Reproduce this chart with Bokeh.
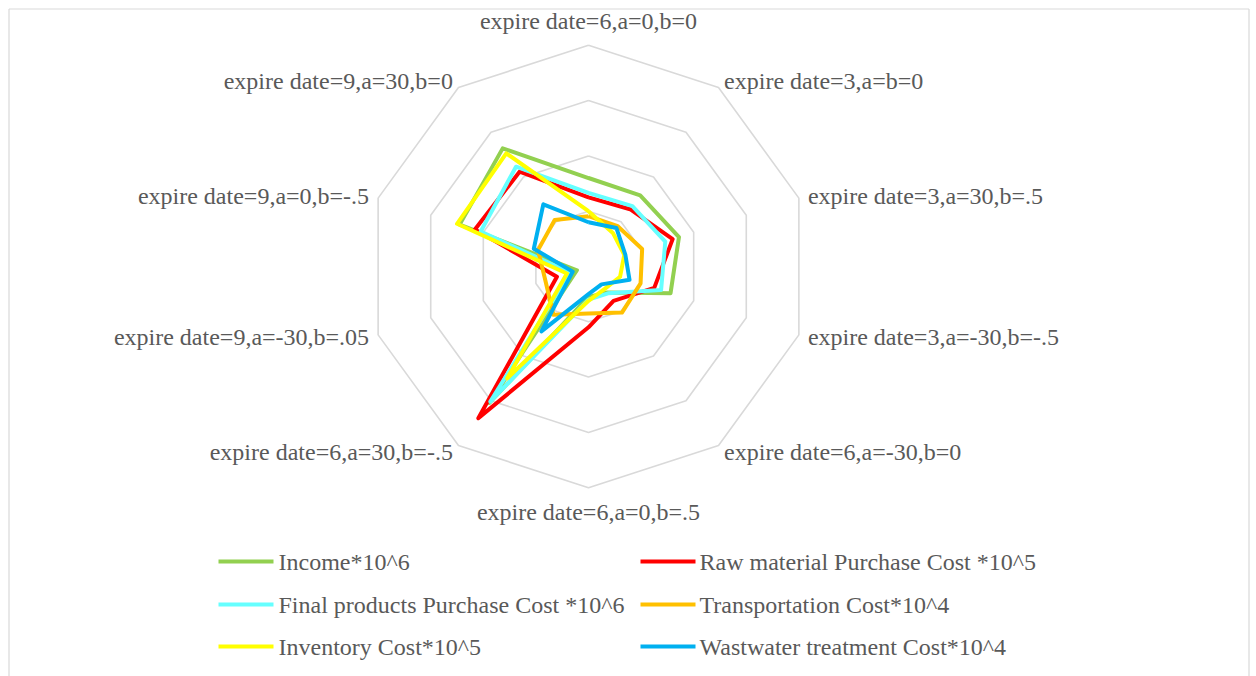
import math
from bokeh.plotting import figure
from bokeh.models import Range1d, ColumnDataSource
from bokeh.core.properties import value
from bokeh.embed import file_html
from bokeh.resources import INLINE

categories = ["expire date=6,a=0,b=0", "expire date=3,a=b=0", "expire date=3,a=30,b=.5",
              "expire date=3,a=-30,b=-.5", "expire date=6,a=-30,b=0", "expire date=6,a=0,b=.5",
              "expire date=6,a=30,b=-.5", "expire date=9,a=-30,b=.05", "expire date=9,a=0,b=-.5",
              "expire date=9,a=30,b=0"]
income = [1.60, 1.59, 1.72, 1.56, 0.58, 0.55, 3.05, 0.22, 2.45, 2.64]
raw_material = [1.25, 1.28, 1.60, 1.25, 0.77, 1.10, 3.39, 0.60, 2.16, 2.12]
final_products = [1.33, 1.35, 1.46, 1.38, 0.60, 0.60, 3.02, 0.35, 2.05, 2.23]
transportation = [0.91, 0.90, 1.02, 0.99, 1.03, 0.85, 1.08, 0.82, 0.96, 1.04]
inventory = [1.00, 0.75, 0.68, 0.60, 0.50, 0.62, 2.50, 0.41, 2.50, 2.53]
wastewater = [0.80, 0.86, 0.70, 0.78, 0.40, 0.50, 1.45, 0.30, 1.04, 1.39]
ring_levels = [1, 2, 3, 4]

series_names = ["Income*10^6", "Raw material Purchase Cost *10^5", "Final products Purchase Cost *10^6",
                "Transportation Cost*10^4", "Inventory Cost*10^5", "Wastwater treatment Cost*10^4"]
series_values = [income, raw_material, final_products, transportation, inventory, wastewater]
series_colors = ["#92D050", "#FF0000", "#66FFFF", "#FFC000", "#FFFF00", "#00B0F0"]

# pixel geometry
U = 55.3
CX, CY = 588, 266
def X(px):
    return (px - CX) / U
def Y(py):
    return (CY - py) / U

n = len(categories)
ang = [math.pi / 2 - 2 * math.pi * k / n for k in range(n)]

p = figure(width=1256, height=676, output_backend="svg", toolbar_location=None,
           x_range=Range1d(X(0), X(1256)), y_range=Range1d(Y(676), Y(0)),
           min_border=0, outline_line_color=None,
           background_fill_color="white", border_fill_color="white")
p.axis.visible = False
p.xgrid.visible = False
p.ygrid.visible = False

# chart-area frame (top, left, right)
p.segment(x0=[X(8.5), X(8.5), X(1248.5)], y0=[Y(8.5), Y(8.5), Y(8.5)],
          x1=[X(1248.5), X(8.5), X(1248.5)], y1=[Y(8.5), Y(680), Y(680)],
          line_color="#D9D9D9", line_width=1.2)

# rings
rx, ry = [], []
for lv in ring_levels:
    rx.append([lv * math.cos(a) for a in ang] + [lv * math.cos(ang[0])])
    ry.append([lv * math.sin(a) for a in ang] + [lv * math.sin(ang[0])])
p.multi_line(rx, ry, line_color="#D9D9D9", line_width=1.6)

# series
for vals, col in zip(series_values, series_colors):
    xs = [v * math.cos(a) for v, a in zip(vals, ang)]
    ys = [v * math.sin(a) for v, a in zip(vals, ang)]
    xs.append(xs[0]); ys.append(ys[0])
    p.line(xs, ys, line_color=col, line_width=4, line_join="round")

# category labels
outer = ring_levels[-1]
lx, ly, xo, yo, al = [], [], [], [], []
for a in ang:
    c, s = math.cos(a), math.sin(a)
    lx.append(outer * c); ly.append(outer * s)
    if abs(c) < 0.1:
        xo.append(0); yo.append(-s * 24); al.append("center")
    else:
        xo.append(c * 9.5); yo.append(-s * 8); al.append("left" if c > 0 else "right")
src = ColumnDataSource(dict(x=lx, y=ly, t=categories, xo=xo, yo=yo, al=al))
p.text("x", "y", text="t", x_offset="xo", y_offset="yo", text_align="al",
       text_baseline="middle", text_font=value("Liberation Serif"),
       text_font_size="24px", text_color="#595959", source=src)

# legend (manual, 2 columns x 3 rows)
leg_rows = [561, 604, 646]
leg_cols = [(218, 273, 278), (640, 695, 699)]
for i, (name, col) in enumerate(zip(series_names, series_colors)):
    r, c = divmod(i, 2)
    x0, x1, xt = leg_cols[c]
    yy = Y(leg_rows[r])
    p.line([X(x0), X(x1)], [yy, yy], line_color=col, line_width=4)
    p.text([X(xt)], [yy], text=[name], text_baseline="middle", text_align="left",
           text_font=value("Liberation Serif"), text_font_size="24px", text_color="#595959")

open("out.html", "w").write(file_html(p, INLINE))
